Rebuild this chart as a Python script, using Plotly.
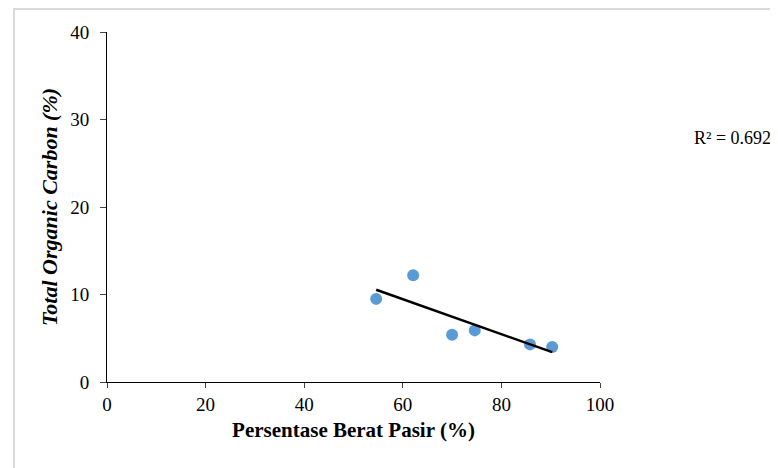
import numpy as np
import plotly.graph_objects as go

# Data
sand_pct = [54.6, 62.1, 70.0, 74.6, 85.8, 90.3]
toc_pct = [9.5, 12.2, 5.4, 5.9, 4.3, 4.0]
x_ticks = [0, 20, 40, 60, 80, 100]
y_ticks = [0, 10, 20, 30, 40]
r2_label = "R² = 0.6923"

slope, intercept = np.polyfit(sand_pct, toc_pct, 1)
trend_x = [min(sand_pct), max(sand_pct)]
trend_y = [slope * v + intercept for v in trend_x]

FONT = "Liberation Serif"

fig = go.Figure()
fig.add_trace(go.Scatter(
    x=sand_pct, y=toc_pct, mode="markers",
    marker=dict(color="#5b9bd5", size=12, line=dict(width=0)),
    showlegend=False, hoverinfo="skip"))
fig.add_trace(go.Scatter(
    x=trend_x, y=trend_y, mode="lines",
    line=dict(color="black", width=2.5),
    showlegend=False, hoverinfo="skip"))

W, H = 778, 468
# target plot area in page pixels (page has 8px body margin)
OFF = 8
PX0, PX1, PY0, PY1 = 107, 600, 32, 382
L = PX0 - OFF
T = PY0 - OFF
R = W - (PX1 - OFF)
B = H - (PY1 - OFF)
pw, ph = PX1 - PX0, PY1 - PY0

def px(xp):
    return (xp - PX0) / pw

def py(yp):
    return (PY1 - yp) / ph

fig.update_layout(
    width=W, height=H,
    margin=dict(l=L, r=R, t=T, b=B, pad=0),
    paper_bgcolor="white", plot_bgcolor="white",
    font=dict(family=FONT, color="black", size=19),
    xaxis=dict(
        range=[0, 100], tickvals=x_ticks, ticks="outside", ticklen=5,
        tickcolor="#444", showline=True, linecolor="black", linewidth=1,
        showgrid=False, zeroline=False, tickfont=dict(size=19, family=FONT),
        title=dict(text="<b>Persentase Berat Pasir (%)</b>",
                   font=dict(size=21, family=FONT), standoff=8),
    ),
    yaxis=dict(
        range=[0, 40], tickvals=y_ticks, ticks="outside", ticklen=6,
        tickcolor="#444", showline=True, linecolor="black", linewidth=1,
        showgrid=False, zeroline=False, tickfont=dict(size=19, family=FONT),
        ticklabelstandoff=7,
        title=dict(text="<b><i>Total Organic Carbon (%)</i></b>",
                   font=dict(size=22, family=FONT), standoff=6),
    ),
    shapes=[dict(type="rect", xref="paper", yref="paper",
                 x0=px(14), x1=px(800), y0=py(490), y1=py(9),
                 line=dict(color="#d9d9d9", width=2), layer="below")],
    annotations=[dict(text=r2_label, xref="paper", yref="paper",
                      x=px(692), y=py(138), xanchor="left", yanchor="middle",
                      showarrow=False, font=dict(size=18, family=FONT))],
)

fig.write_html("out.html")
